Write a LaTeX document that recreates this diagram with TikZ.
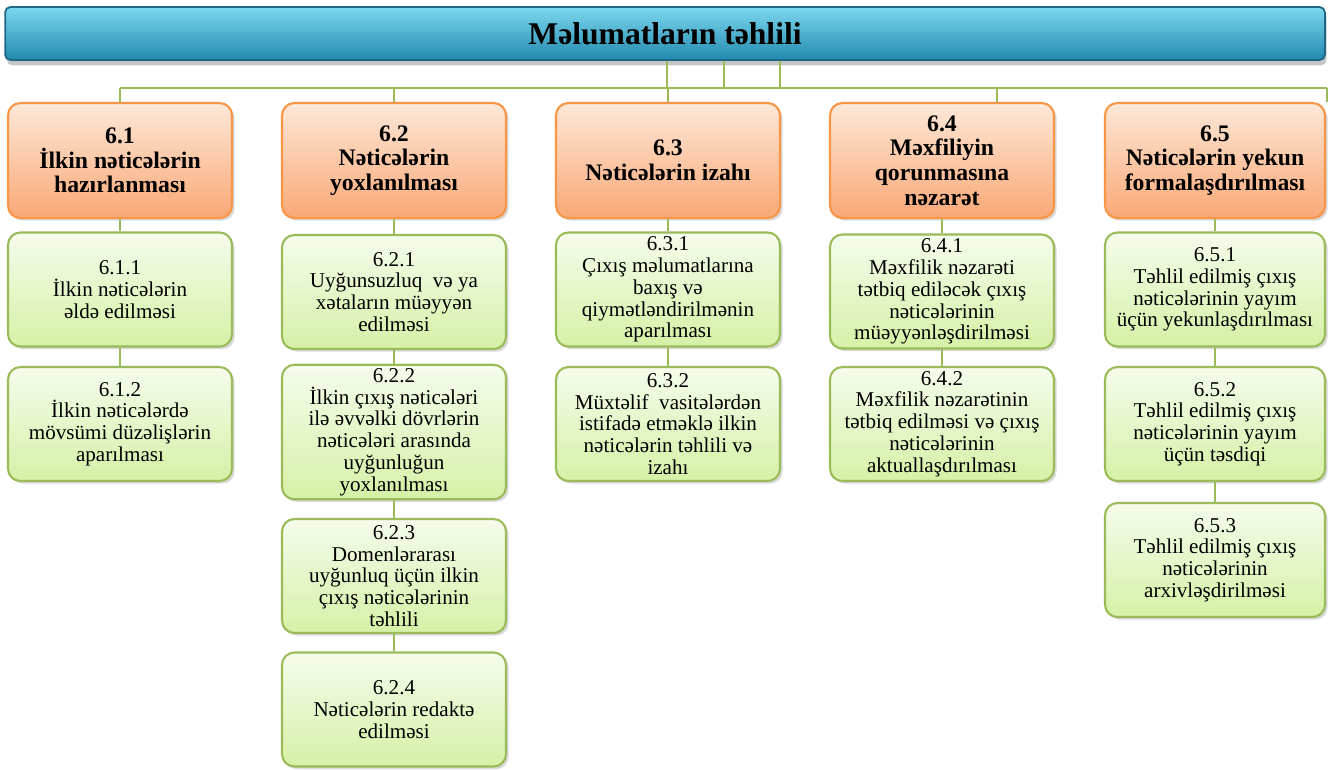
\documentclass[tikz,border=0pt]{standalone}
\usepackage{fontspec}
\setmainfont{Liberation Serif}
\usepackage{tikz}
\usetikzlibrary{shadows,positioning}
\definecolor{barblue}{RGB}{52,168,204}
\definecolor{bartop}{RGB}{125,216,240}
\definecolor{barbottom}{RGB}{34,138,174}
\definecolor{barline}{RGB}{28,104,134}
\definecolor{peach}{RGB}{253,232,216}
\definecolor{apricot}{RGB}{250,168,118}
\definecolor{orangeline}{RGB}{247,150,70}
\definecolor{palegreen}{RGB}{245,252,236}
\definecolor{leafgreen}{RGB}{213,241,166}
\definecolor{linkgreen}{RGB}{155,187,89}
\tikzset{
	head/.style={rectangle, rounded corners=7pt, draw=orangeline, line width=1.2pt, top color=peach, bottom color=apricot, minimum width=4.48cm, minimum height=2.3cm, inner sep=2pt, align=center, font=\fontsize{13.5}{14}\selectfont\bfseries, drop shadow={opacity=0.3, shadow xshift=1.5pt, shadow yshift=-1.5pt}},
	sub/.style={rectangle, rounded corners=7pt, draw=linkgreen, line width=1.2pt, top color=palegreen, bottom color=leafgreen, minimum width=4.48cm, minimum height=2.28cm, inner sep=2pt, align=center, font=\fontsize{12}{12.4}\selectfont, drop shadow={opacity=0.3, shadow xshift=1.5pt, shadow yshift=-1.5pt}},
	link/.style={draw=linkgreen, line width=1.4pt}
}
\begin{document}
\begin{tikzpicture}[x=0.02cm,y=-0.02cm]
		
		\useasboundingbox (0,0) rectangle (1333,769);
		
		% bus under the title
		\coordinate (busL) at (120,88);
		\coordinate (busR) at (1327,88);
		
		\node[rectangle, rounded corners=3pt, draw=barline, line width=1pt, top color=bartop, middle color=barblue, bottom color=barbottom, minimum width=26.4cm, minimum height=1.06cm, drop shadow={opacity=0.45, shadow xshift=1pt, shadow yshift=-3pt}, font=\fontsize{18}{20}\selectfont\bfseries] (T) at (665,33.5) {Məlumatların təhlili};
		
		\draw[link] ([xshift=0.04cm]T.south) -- ([xshift=0.04cm]T.south |- busL);
		\draw[link] ([xshift=1.18cm]T.south) -- ([xshift=1.18cm]T.south |- busL);
		\draw[link] ([xshift=2.3cm]T.south) -- ([xshift=2.3cm]T.south |- busL);
		\draw[link] (busL) -- (busR);
		
		% headers
		\node[head] (H1) at (120,160.5) {6.1\\İlkin nəticələrin\\hazırlanması};
		\node[head] (H2) at (394,160.5) {6.2\\Nəticələrin\\yoxlanılması};
		\node[head] (H3) at (668,160.5) {6.3\\Nəticələrin izahı};
		\node[head] (H4) at (942,160.5) {6.4\\Məxfiliyin\\qorunmasına\\nəzarət};
		\node[head, minimum width=4.4cm] (H5) at (1215,160.5) {6.5\\Nəticələrin yekun\\formalaşdırılması};
		
		\draw[link] (H1.north |- busL) -- (H1.north);
		\draw[link] (H2.north |- busL) -- (H2.north);
		\draw[link] (H3.north |- busL) -- (H3.north);
		\draw[link] ([xshift=1.1cm]H4.north |- busL) -- ([xshift=1.1cm]H4.north);
		\draw[link] (busR) -- (busR |- H5.north);
		
		% column 6.1
		\node[sub] (S11) at (120,289.5) {6.1.1\\İlkin nəticələrin\\əldə edilməsi};
		\node[sub] (S12) at (120,424) {6.1.2\\İlkin nəticələrdə\\mövsümi düzəlişlərin\\aparılması};
		
		% column 6.2
		\node[sub] (S21) at (394,292) {6.2.1\\Uyğunsuzluq \ və ya\\xətaların müəyyən\\edilməsi};
		\node[sub, minimum height=2.6cm] (S22) at (394,432) {6.2.2\\İlkin çıxış nəticələri\\ilə əvvəlki dövrlərin\\nəticələri arasında\\uyğunluğun\\yoxlanılması};
		\node[sub] (S23) at (394,576) {6.2.3\\Domenlərarası\\uyğunluq üçün ilkin\\çıxış nəticələrinin\\təhlili};
		\node[sub] (S24) at (394,709.5) {6.2.4\\Nəticələrin redaktə\\edilməsi};
		
		% column 6.3
		\node[sub] (S31) at (668,289.5) {6.3.1\\Çıxış məlumatlarına\\baxış və\\qiymətləndirilmənin\\aparılması};
		\node[sub] (S32) at (668,424) {6.3.2\\Müxtəlif \ vasitələrdən\\istifadə etməklə ilkin\\nəticələrin təhlili və\\izahı};
		
		% column 6.4
		\node[sub] (S41) at (942,291.5) {6.4.1\\Məxfilik nəzarəti\\tətbiq ediləcək çıxış\\nəticələrinin\\müəyyənləşdirilməsi};
		\node[sub] (S42) at (942,424) {6.4.2\\Məxfilik nəzarətinin\\tətbiq edilməsi və çıxış\\nəticələrinin\\aktuallaşdırılması};
		
		% column 6.5
		\node[sub, minimum width=4.4cm] (S51) at (1215,289.5) {6.5.1\\Təhlil edilmiş çıxış\\nəticələrinin yayım\\üçün yekunlaşdırılması};
		\node[sub, minimum width=4.4cm] (S52) at (1215,424) {6.5.2\\Təhlil edilmiş çıxış\\nəticələrinin yayım\\üçün təsdiqi};
		\node[sub, minimum width=4.4cm] (S53) at (1215,560) {6.5.3\\Təhlil edilmiş çıxış\\nəticələrinin\\arxivləşdirilməsi};
		
		\foreach \a/\b in {H1/S11, S11/S12, H2/S21, S21/S22, S22/S23, S23/S24, H3/S31, S31/S32, H4/S41, S41/S42, H5/S51, S51/S52, S52/S53}
		\draw[link] (\a) -- (\b);
		\end{tikzpicture}
\end{document}
